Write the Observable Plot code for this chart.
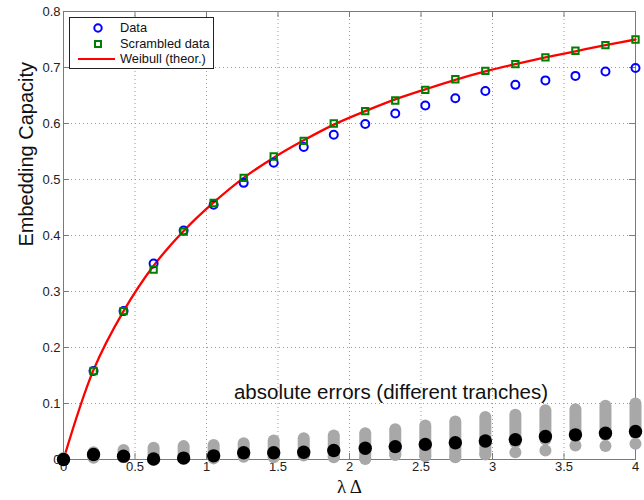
<!DOCTYPE html>
<html>
<head>
<meta charset="utf-8">
<script src="https://cdn.jsdelivr.net/npm/d3@7"></script>
<script src="https://cdn.jsdelivr.net/npm/@observablehq/plot@0.6"></script>
<style>
  html, body { margin: 0; padding: 0; background: #fff; }
  #wrap { position: relative; width: 644px; height: 500px; font-family: "Liberation Sans", Arial, sans-serif; }
  #legend { position: absolute; left: 69px; top: 17px; width: 143px; height: 50px; border: 1px solid #222; background: #fff; }
  #legend svg { display: block; }
</style>
</head>
<body>
<div id="wrap"></div>
<script>
// ---- data ----
const lambdaDelta = [0, 0.21, 0.42, 0.63, 0.84, 1.05, 1.26, 1.47, 1.68, 1.89, 2.11, 2.32, 2.53, 2.74, 2.95, 3.16, 3.37, 3.58, 3.79, 4.0];
const dataCap      = [0, 0.158, 0.265, 0.350, 0.409, 0.455, 0.494, 0.530, 0.558, 0.580, 0.599, 0.618, 0.632, 0.645, 0.658, 0.669, 0.677, 0.685, 0.693, 0.699];
const scrambledCap = [0, 0.158, 0.265, 0.339, 0.407, 0.458, 0.503, 0.541, 0.569, 0.600, 0.622, 0.641, 0.660, 0.679, 0.694, 0.706, 0.718, 0.730, 0.740, 0.750];
const weibullCap   = [0, 0.160, 0.265, 0.346, 0.408, 0.459, 0.503, 0.539, 0.570, 0.598, 0.622, 0.643, 0.661, 0.678, 0.693, 0.706, 0.718, 0.729, 0.740, 0.750];
const errMean  = [0, 0.009, 0.006, 0.001, 0.0025, 0.0065, 0.012, 0.012, 0.013, 0.016, 0.020, 0.023, 0.027, 0.030, 0.033, 0.0355, 0.041, 0.044, 0.047, 0.050];
const errHigh  = [0.002, 0.012, 0.016, 0.020, 0.023, 0.025, 0.028, 0.033, 0.037, 0.042, 0.046, 0.053, 0.060, 0.067, 0.075, 0.079, 0.087, 0.089, 0.095, 0.099];
const errLow   = [0, 0.003, 0.004, 0.0, 0.003, 0.002, 0.005, 0.004, 0.007, 0.004, 0.001, 0.008, 0.006, 0.004, 0.009, 0.030, 0.035, 0.040, 0.043, 0.046];
const errLowDot= [0, 0.003, 0.004, 0.0, 0.003, 0.002, 0.005, 0.004, 0.007, 0.004, 0.001, 0.008, 0.006, 0.004, 0.009, 0.013, 0.016, 0.025, 0.024, 0.028];
const xTicks = [0, 0.5, 1, 1.5, 2, 2.5, 3, 3.5, 4];
const yTicks = [0, 0.1, 0.2, 0.3, 0.4, 0.5, 0.6, 0.7, 0.8];
const xLabel = "λ Δ";
const yLabel = "Embedding Capacity";
const annotation = [{x: 2.29, y: 0.12, text: "absolute errors (different tranches)"}];
const legendItems = ["Data", "Scrambled data", "Weibull (theor.)"];

const rows = lambdaDelta.map((x, i) => ({
  x, data: dataCap[i], scr: scrambledCap[i], wb: weibullCap[i],
  mean: errMean[i], hi: errHigh[i], lo: errLow[i], lowDot: errLowDot[i]
}));

const fmt = d => String(+(+d).toFixed(2));
const axisColor = "#7a7a7a";
const gridColor = "#9a9a9a";

const plot = Plot.plot({
  width: 644,
  height: 500,
  marginLeft: 63,
  marginRight: 9,
  marginTop: 11,
  marginBottom: 41,
  style: {fontFamily: '"Liberation Sans", Arial, sans-serif', fontSize: "13px", color: "#222", background: "#fff"},
  x: {domain: [0, 4]},
  y: {domain: [0, 0.8]},
  marks: [
    Plot.gridX(xTicks, {stroke: gridColor, strokeOpacity: 1, strokeDasharray: "1,3"}),
    Plot.gridY(yTicks, {stroke: gridColor, strokeOpacity: 1, strokeDasharray: "1,3"}),
    Plot.frame({stroke: axisColor}),
    // inward ticks on all four sides
    Plot.ruleX(xTicks, {stroke: axisColor, insetTop: 442}),
    Plot.ruleX(xTicks, {stroke: axisColor, insetBottom: 442}),
    Plot.ruleY(yTicks, {stroke: axisColor, insetRight: 566}),
    Plot.ruleY(yTicks, {stroke: axisColor, insetLeft: 566}),
    Plot.axisX(xTicks, {tickSize: 0, tickPadding: 2, tickFormat: fmt, label: null, fontSize: 13, fill: "#222"}),
    Plot.axisY(yTicks, {tickSize: 0, tickPadding: 3, tickFormat: fmt, label: null, fontSize: 13, fill: "#222"}),
    Plot.text([xLabel], {frameAnchor: "bottom", dy: 33, fontFamily: '"Liberation Serif", "DejaVu Serif", serif', fontSize: 19, fill: "#111"}),
    Plot.text([yLabel], {frameAnchor: "left", dx: -37, dy: 11, rotate: -90, fontSize: 20, fill: "#111"}),
    // Weibull curve and measured capacities
    Plot.line(rows, {x: "x", y: "wb", stroke: "#ff0000", strokeWidth: 2.3, curve: "catmull-rom"}),
    Plot.dot(rows, {x: "x", y: "data", r: 4, stroke: "#0000ff", strokeWidth: 2, fill: "none"}),
    Plot.dot(rows, {x: "x", y: "scr", r: 3.6, symbol: "square", stroke: "#008000", strokeWidth: 2, fill: "none"}),
    // absolute errors
    Plot.ruleX(rows, {x: "x", y1: "lo", y2: "hi", stroke: "#a8a8a8", strokeWidth: 12, strokeLinecap: "round"}),
    Plot.dot(rows, {x: "x", y: "lowDot", r: 6, fill: "#a8a8a8"}),
    Plot.dot(rows, {x: "x", y: "mean", r: 6.7, fill: "#000"}),
    Plot.text(annotation, {x: "x", y: "y", text: "text", fontSize: 20.5, fill: "#111"})
  ]
});

const wrap = document.getElementById("wrap");
wrap.appendChild(plot);

// legend box (upper left, MATLAB style)
const legend = document.createElement("div");
legend.id = "legend";
const ns = "http://www.w3.org/2000/svg";
const svg = document.createElementNS(ns, "svg");
svg.setAttribute("width", 143);
svg.setAttribute("height", 50);
const rowY = [10, 26, 41];
const c = document.createElementNS(ns, "circle");
c.setAttribute("cx", 28); c.setAttribute("cy", rowY[0]); c.setAttribute("r", 3.7);
c.setAttribute("fill", "none"); c.setAttribute("stroke", "#0000ff"); c.setAttribute("stroke-width", 2);
svg.appendChild(c);
const s = document.createElementNS(ns, "rect");
s.setAttribute("x", 25); s.setAttribute("y", rowY[1] - 3); s.setAttribute("width", 6); s.setAttribute("height", 6);
s.setAttribute("fill", "none"); s.setAttribute("stroke", "#008000"); s.setAttribute("stroke-width", 2);
svg.appendChild(s);
const l = document.createElementNS(ns, "line");
l.setAttribute("x1", 8); l.setAttribute("x2", 45); l.setAttribute("y1", rowY[2]); l.setAttribute("y2", rowY[2]);
l.setAttribute("stroke", "#ff0000"); l.setAttribute("stroke-width", 2);
svg.appendChild(l);
legendItems.forEach((t, i) => {
  const tx = document.createElementNS(ns, "text");
  tx.setAttribute("x", 50); tx.setAttribute("y", rowY[i]); tx.setAttribute("dy", "0.35em");
  tx.setAttribute("font-size", "12.8px"); tx.setAttribute("fill", "#111");
  tx.setAttribute("font-family", '"Liberation Sans", Arial, sans-serif');
  tx.textContent = t;
  svg.appendChild(tx);
});
legend.appendChild(svg);
wrap.appendChild(legend);
</script>
</body>
</html>
